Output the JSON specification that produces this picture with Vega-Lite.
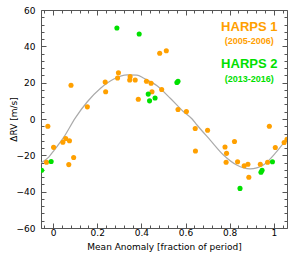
{
  "$schema": "https://vega.github.io/schema/vega-lite/v6.json",
  "autosize": "none",
  "padding": {"left": 41, "top": 10, "right": 20, "bottom": 31},
  "width": 246,
  "height": 218,
  "background": "white",
  "config": {
    "view": {"stroke": "#555555", "strokeWidth": 1},
    "axis": {"grid": false, "domain": false, "tickColor": "#555555", "tickWidth": 1,
      "labelFont": "DejaVu Sans", "labelFontSize": 9, "labelColor": "#000000",
      "titleFont": "DejaVu Sans", "titleFontSize": 9, "titleFontWeight": "normal", "titleColor": "#000000",
      "labelOverlap": false, "labelFlush": false, "labelBound": false}
  },
  "datasets": {
    "curve": [
      {"phase": -0.055, "rv": -24.2}, {"phase": -0.02, "rv": -21.0}, {"phase": 0.005, "rv": -17.1},
      {"phase": 0.05, "rv": -9.7}, {"phase": 0.1, "rv": 0.5}, {"phase": 0.155, "rv": 9.5},
      {"phase": 0.215, "rv": 16.9}, {"phase": 0.275, "rv": 22.0}, {"phase": 0.336, "rv": 24.3},
      {"phase": 0.38, "rv": 24.2}, {"phase": 0.411, "rv": 22.4}, {"phase": 0.471, "rv": 18.3},
      {"phase": 0.531, "rv": 11.4}, {"phase": 0.591, "rv": 4.0}, {"phase": 0.63, "rv": 0.0},
      {"phase": 0.652, "rv": -3.3}, {"phase": 0.712, "rv": -11.6}, {"phase": 0.772, "rv": -19.8},
      {"phase": 0.832, "rv": -25.3}, {"phase": 0.893, "rv": -27.4}, {"phase": 0.953, "rv": -25.3},
      {"phase": 1.013, "rv": -18.0}, {"phase": 1.06, "rv": -10.8}
    ],
    "h1": [
      {"phase": -0.024, "rv": -4.0, "series": "HARPS 1"}, {"phase": -0.030, "rv": -23.8, "series": "HARPS 1"},
      {"phase": 0.002, "rv": -15.6, "series": "HARPS 1"}, {"phase": 0.044, "rv": -12.8, "series": "HARPS 1"},
      {"phase": 0.057, "rv": -10.8, "series": "HARPS 1"}, {"phase": 0.074, "rv": -12.0, "series": "HARPS 1"},
      {"phase": 0.071, "rv": -25.1, "series": "HARPS 1"}, {"phase": 0.093, "rv": -21.2, "series": "HARPS 1"},
      {"phase": 0.081, "rv": 18.6, "series": "HARPS 1"}, {"phase": 0.155, "rv": 6.7, "series": "HARPS 1"},
      {"phase": 0.236, "rv": 20.3, "series": "HARPS 1"}, {"phase": 0.238, "rv": 15.0, "series": "HARPS 1"},
      {"phase": 0.296, "rv": 25.4, "series": "HARPS 1"}, {"phase": 0.292, "rv": 22.6, "series": "HARPS 1"},
      {"phase": 0.349, "rv": 23.3, "series": "HARPS 1"}, {"phase": 0.347, "rv": 21.5, "series": "HARPS 1"},
      {"phase": 0.372, "rv": 21.5, "series": "HARPS 1"}, {"phase": 0.386, "rv": 10.9, "series": "HARPS 1"},
      {"phase": 0.423, "rv": 20.8, "series": "HARPS 1"}, {"phase": 0.444, "rv": 19.7, "series": "HARPS 1"},
      {"phase": 0.448, "rv": 15.0, "series": "HARPS 1"}, {"phase": 0.483, "rv": 36.2, "series": "HARPS 1"},
      {"phase": 0.513, "rv": 37.6, "series": "HARPS 1"}, {"phase": 0.492, "rv": 16.2, "series": "HARPS 1"},
      {"phase": 0.566, "rv": 5.2, "series": "HARPS 1"}, {"phase": 0.604, "rv": 4.1, "series": "HARPS 1"},
      {"phase": 0.644, "rv": -5.2, "series": "HARPS 1"}, {"phase": 0.700, "rv": -6.2, "series": "HARPS 1"},
      {"phase": 0.645, "rv": -17.6, "series": "HARPS 1"}, {"phase": 0.779, "rv": -15.4, "series": "HARPS 1"},
      {"phase": 0.786, "rv": -18.9, "series": "HARPS 1"}, {"phase": 0.822, "rv": -12.4, "series": "HARPS 1"},
      {"phase": 0.784, "rv": -23.8, "series": "HARPS 1"}, {"phase": 0.836, "rv": -23.5, "series": "HARPS 1"},
      {"phase": 0.866, "rv": -25.7, "series": "HARPS 1"}, {"phase": 0.883, "rv": -24.9, "series": "HARPS 1"},
      {"phase": 0.887, "rv": -32.1, "series": "HARPS 1"}, {"phase": 0.939, "rv": -24.9, "series": "HARPS 1"},
      {"phase": 0.972, "rv": -23.8, "series": "HARPS 1"}, {"phase": 0.980, "rv": -4.0, "series": "HARPS 1"},
      {"phase": 1.007, "rv": -15.7, "series": "HARPS 1"}, {"phase": 1.047, "rv": -12.9, "series": "HARPS 1"},
      {"phase": 1.06, "rv": -11.2, "series": "HARPS 1"}
    ],
    "h2": [
      {"phase": -0.009, "rv": -23.4, "series": "HARPS 2"}, {"phase": -0.052, "rv": -28.2, "series": "HARPS 2"},
      {"phase": 0.289, "rv": 50.1, "series": "HARPS 2"}, {"phase": 0.390, "rv": 46.8, "series": "HARPS 2"},
      {"phase": 0.431, "rv": 13.7, "series": "HARPS 2"}, {"phase": 0.437, "rv": 10.0, "series": "HARPS 2"},
      {"phase": 0.462, "rv": 11.6, "series": "HARPS 2"}, {"phase": 0.561, "rv": 20.1, "series": "HARPS 2"},
      {"phase": 0.566, "rv": 20.8, "series": "HARPS 2"}, {"phase": 0.847, "rv": -38.2, "series": "HARPS 2"},
      {"phase": 0.942, "rv": -29.3, "series": "HARPS 2"}, {"phase": 0.947, "rv": -28.2, "series": "HARPS 2"},
      {"phase": 0.994, "rv": -23.5, "series": "HARPS 2"}
    ],
    "ann": [
      {"label": "HARPS 1", "kind": "name", "series": "HARPS 1", "phase": 0.889, "rv": 50.6},
      {"label": "(2005-2006)", "kind": "years", "series": "HARPS 1", "phase": 0.889, "rv": 42.9},
      {"label": "HARPS 2", "kind": "name", "series": "HARPS 2", "phase": 0.889, "rv": 30.1},
      {"label": "(2013-2016)", "kind": "years", "series": "HARPS 2", "phase": 0.889, "rv": 22.0}
    ]
  },
  "resolve": {"axis": {"x": "independent", "y": "independent"}},
  "layer": [
    {
      "mark": {"type": "rule", "stroke": "#777777", "strokeWidth": 1, "strokeDash": [2, 2]},
      "encoding": {"y": {"datum": 0, "type": "quantitative", "scale": {"domain": [-60, 60], "nice": false, "zero": false}, "axis": null}}
    },
    {
      "data": {"name": "curve"},
      "mark": {"type": "line", "stroke": "#aaaaaa", "strokeWidth": 1.2, "interpolate": "monotone", "clip": true},
      "encoding": {
        "x": {"field": "phase", "type": "quantitative", "scale": {"domain": [-0.055, 1.06], "nice": false, "zero": false}, "axis": null},
        "y": {"field": "rv", "type": "quantitative", "axis": null}
      }
    },
    {
      "data": {"name": "h1"},
      "mark": {"type": "circle", "size": 26, "opacity": 1, "clip": true},
      "encoding": {
        "x": {"field": "phase", "type": "quantitative",
          "axis": {"orient": "bottom", "title": "Mean Anomaly [fraction of period]", "titlePadding": 3,
            "values": [-0.04, 0, 0.04, 0.08, 0.12, 0.16, 0.2, 0.24, 0.28, 0.32, 0.36, 0.4, 0.44, 0.48, 0.52, 0.56, 0.6, 0.64, 0.68, 0.72, 0.76, 0.8, 0.84, 0.88, 0.92, 0.96, 1, 1.04],
            "tickSize": {"condition": {"test": "abs(datum.value*5-round(datum.value*5))<1e-6", "value": -5}, "value": -3},
            "labelExpr": "abs(datum.value*5-round(datum.value*5))<1e-6 ? format(datum.value, '.1~f') : ''",
            "labelPadding": 5}},
        "y": {"field": "rv", "type": "quantitative",
          "axis": {"orient": "left", "title": "ΔRV [m/s]", "titlePadding": -2,
            "values": [-60, -56, -52, -48, -44, -40, -36, -32, -28, -24, -20, -16, -12, -8, -4, 0, 4, 8, 12, 16, 20, 24, 28, 32, 36, 40, 44, 48, 52, 56, 60],
            "tickSize": {"condition": {"test": "datum.value % 20 === 0", "value": -5}, "value": -3},
            "labelExpr": "datum.value % 20 === 0 ? datum.label : ''",
            "labelPadding": 11}},
        "color": {"field": "series", "type": "nominal", "scale": {"domain": ["HARPS 1", "HARPS 2"], "range": ["#FFA000", "#00E000"]}, "legend": null}
      }
    },
    {
      "data": {"name": "h2"},
      "mark": {"type": "circle", "size": 26, "opacity": 1, "clip": true},
      "encoding": {
        "x": {"field": "phase", "type": "quantitative",
          "axis": {"orient": "top", "title": null, "labels": false,
            "values": [-0.04, 0, 0.04, 0.08, 0.12, 0.16, 0.2, 0.24, 0.28, 0.32, 0.36, 0.4, 0.44, 0.48, 0.52, 0.56, 0.6, 0.64, 0.68, 0.72, 0.76, 0.8, 0.84, 0.88, 0.92, 0.96, 1, 1.04],
            "tickSize": {"condition": {"test": "abs(datum.value*5-round(datum.value*5))<1e-6", "value": -5}, "value": -3}}},
        "y": {"field": "rv", "type": "quantitative",
          "axis": {"orient": "right", "title": null, "labels": false,
            "values": [-60, -56, -52, -48, -44, -40, -36, -32, -28, -24, -20, -16, -12, -8, -4, 0, 4, 8, 12, 16, 20, 24, 28, 32, 36, 40, 44, 48, 52, 56, 60],
            "tickSize": {"condition": {"test": "datum.value % 20 === 0", "value": -5}, "value": -3}}},
        "color": {"field": "series", "type": "nominal", "legend": null}
      }
    },
    {
      "data": {"name": "ann"},
      "transform": [{"filter": "datum.kind === 'name'"}],
      "mark": {"type": "text", "font": "Liberation Sans", "fontSize": 13, "fontWeight": "bold", "align": "center", "baseline": "middle"},
      "encoding": {
        "x": {"field": "phase", "type": "quantitative", "axis": null},
        "y": {"field": "rv", "type": "quantitative", "axis": null},
        "text": {"field": "label"},
        "color": {"field": "series", "type": "nominal", "legend": null}
      }
    },
    {
      "data": {"name": "ann"},
      "transform": [{"filter": "datum.kind === 'years'"}],
      "mark": {"type": "text", "font": "Liberation Sans", "fontSize": 9, "fontWeight": "bold", "align": "center", "baseline": "middle"},
      "encoding": {
        "x": {"field": "phase", "type": "quantitative", "axis": null},
        "y": {"field": "rv", "type": "quantitative", "axis": null},
        "text": {"field": "label"},
        "color": {"field": "series", "type": "nominal", "legend": null}
      }
    }
  ]
}
